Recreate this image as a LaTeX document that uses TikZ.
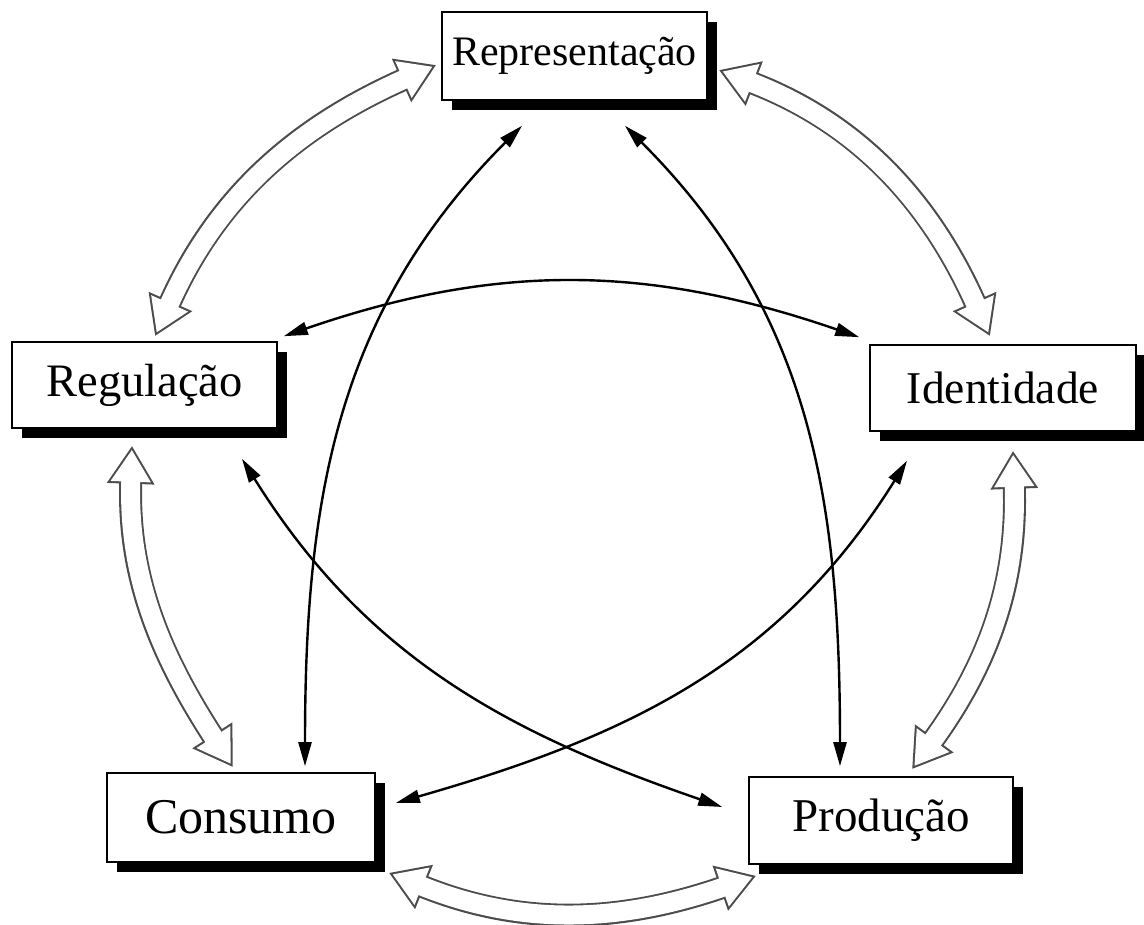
\documentclass[tikz,border=0pt]{standalone}
\usepackage{fontspec}
\setmainfont{Liberation Serif}
\usetikzlibrary{arrows.meta,shadows,calc}
\pgfdeclarelayer{background}
\pgfsetlayers{background,main}
\tikzset{
  box/.style={draw=black, line width=1.6pt, fill=white, rectangle, inner sep=0pt,
    drop shadow={shadow xshift=10pt, shadow yshift=-10pt, fill=black, opacity=1}},
  thinarrow/.style={line width=2.4pt, draw=black,
    {Triangle[length=24pt,width=13pt]}-{Triangle[length=24pt,width=13pt]}},
  hollowouter/.style={line width=23pt, draw=black!70,
    {Triangle[length=38pt,width=45pt]}-{Triangle[length=38pt,width=45pt]}},
  hollowinner/.style={line width=19pt, draw=white, shorten <=3.9pt, shorten >=3.9pt,
    {Triangle[length=32pt,width=38pt]}-{Triangle[length=32pt,width=38pt]}},
}
\newcommand{\hollowarr}[1]{\draw[hollowouter] #1; \draw[hollowinner] #1;}
\begin{document}
\begin{tikzpicture}[x=1pt,y=1pt]
\useasboundingbox (0,0) rectangle (1144,925);
% boxes
\node[box, minimum width=265pt, minimum height=88pt, font=\fontsize{42}{48}\selectfont] (rep) at (574.5,869) {Representação};
\node[box, minimum width=265pt, minimum height=86pt, font=\fontsize{46.5}{52}\selectfont] (reg) at (144.5,540) {Regulação};
\node[box, minimum width=266pt, minimum height=86pt, font=\fontsize{45.5}{52}\selectfont] (ide) at (1003,537) {Identidade};
\node[box, minimum width=268pt, minimum height=89pt, font=\fontsize{50}{56}\selectfont] (con) at (241,107.5) {Consumo};
\node[box, minimum width=264pt, minimum height=87pt, font=\fontsize{47}{54}\selectfont] (pro) at (881,104.5) {Produção};
\begin{pgfonlayer}{background}
% hollow arrows round the circuit
\hollowarr{([xshift=10.5pt,yshift=5pt]reg.north) to[out=66,in=204] ([xshift=-5pt,yshift=-9pt]rep.west)}
\hollowarr{([xshift=11pt,yshift=-14pt]rep.east) to[out=-21,in=114] ([xshift=-13pt,yshift=8pt]ide.north)}
\hollowarr{([xshift=-12.5pt,yshift=-17pt]reg.south) to[out=-92,in=123] ([xshift=-8pt,yshift=5pt]con.north)}
\hollowarr{([xshift=10pt,yshift=-19pt]ide.south) to[out=-88,in=54] ([xshift=31pt,yshift=7pt]pro.north)}
\hollowarr{([xshift=13pt,yshift=-10pt]con.south east) to[out=-22,in=199] ([xshift=8pt,yshift=-11pt]pro.south west)}
% thin arrows across
\draw[thinarrow] ([xshift=64pt,yshift=6pt]con.north) to[out=90,in=225] ([xshift=-52.5pt,yshift=-25pt]rep.south);
\draw[thinarrow] ([xshift=-41pt,yshift=10pt]pro.north) to[out=90,in=-45] ([xshift=50.5pt,yshift=-25pt]rep.south);
\draw[thinarrow] ([xshift=6pt,yshift=5pt]reg.north east) to[out=19,in=161] ([xshift=-10pt,yshift=7pt]ide.north west);
\draw[thinarrow] ([xshift=97.5pt,yshift=-30pt]reg.south) to[out=-58,in=161] ([xshift=-26pt,yshift=13.5pt]pro.west);
\draw[thinarrow] ([xshift=-96pt,yshift=-29pt]ide.south) to[out=238,in=16] ([xshift=20pt,yshift=14.5pt]con.east);
\end{pgfonlayer}
\end{tikzpicture}
\end{document}
